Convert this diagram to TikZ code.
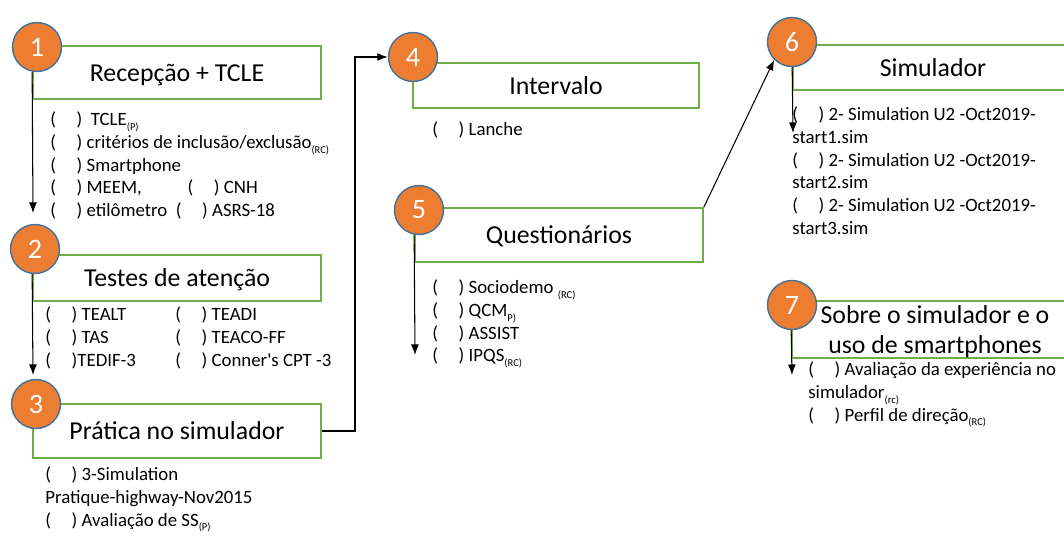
\documentclass[tikz,border=0pt]{standalone}
\usepackage{fontspec}
\setmainfont{Carlito}
\usepackage{xcolor}
\usepackage{tikz}
\usetikzlibrary{shapes,arrows.meta}

\definecolor{boxgreen}{HTML}{70AD47}
\definecolor{badgeorange}{HTML}{ED7D31}
\definecolor{badgeblue}{HTML}{41719C}
\newcommand{\titlefont}{\fontsize{14.7}{17}\selectfont}
\newcommand{\listfont}{\fontsize{10.7}{13}\selectfont}
\newcommand{\numfont}{\fontsize{16}{18}\selectfont}
\newcommand{\chkbox}{(\hspace{1.1em})}
\newcommand{\lowsub}[1]{\raisebox{-0.55ex}{\fontsize{6}{6}\selectfont #1}}
\newcommand{\subtag}[1]{\lowsub{(#1)}}

\begin{document}
\begin{tikzpicture}[x=0.02cm, y=-0.02cm]
	\tikzstyle{block} = [rectangle, draw=boxgreen, line width=1pt, inner sep=0pt,
	text centered, text depth=0pt, font=\titlefont]
	\tikzstyle{badge} = [circle, fill=badgeorange, draw=badgeblue, line width=0.8pt,
	minimum size=0.98cm, inner sep=0pt, text=white, font=\numfont]
	\tikzstyle{items} = [anchor=north west, align=left, inner sep=0pt, font=\listfont]
	\tikzstyle{line} = [draw, -{Latex[length=6pt,width=4.5pt]}, line width=0.6pt]
	\clip (0,0) rectangle (1064,535);
	% Place boxes
	\node [block, minimum width=5.76cm, minimum height=1.06cm] (b1) at (177,72.5) {Recepção + TCLE};
	\node [block, minimum width=5.76cm, minimum height=0.92cm] (b2) at (177,278) {Testes de atenção};
	\node [block, minimum width=5.76cm, minimum height=1.08cm] (b3) at (177,431) {Prática no simulador};
	\node [block, minimum width=5.72cm, minimum height=0.9cm] (b4) at (556,85.5) {Intervalo};
	\node [block, minimum width=5.76cm, minimum height=1.08cm] (b5) at (559,235) {Questionários};
	\node [block, minimum width=5.6cm, minimum height=0.9cm] (b6) at (933,67.5) {Simulador};
	\node [block, minimum width=5.72cm, minimum height=1.14cm, align=center] (b7) at (935,329.5)
	{Sobre o simulador e o\\uso de smartphones};
	% Place item lists
	\node [items] (l1) at (50,109) {\strut\chkbox\ \ TCLE\subtag{P}\\
	\chkbox\ critérios de inclusão/exclusão\subtag{RC}\\
	\chkbox\ Smartphone\\
	\chkbox\ MEEM,\hspace{26pt}\chkbox\ CNH\\
	\chkbox\ etilômetro \ \chkbox\ ASRS-18};
	\node [items] (l2a) at (45,304) {\strut\chkbox\ TEALT\\ \chkbox\ TAS\\ \chkbox TEDIF-3};
	\node [items] (l2b) at (175,304) {\strut\chkbox\ TEADI\\ \chkbox\ TEACO-FF\\ \chkbox\ Conner\textquotesingle s CPT -3};
	\node [items] (l3) at (45,464) {\strut\chkbox\ 3-Simulation\\
	Pratique-highway-Nov2015\\
	\chkbox\ Avaliação de SS\subtag{P}};
	\node [items] (l4) at (432,119) {\strut\chkbox\ Lanche};
	\node [items] (l5) at (432,277) {\strut\chkbox\ Sociodemo \subtag{RC}\\
	\chkbox\ QCM\lowsub{P)}\\
	\chkbox\ ASSIST\\
	\chkbox\ IPQS\subtag{RC}};
	\node [items] (l6) at (792,104) {\strut\chkbox\ 2- Simulation U2 -Oct2019-\\
	start1.sim\\
	\chkbox\ 2- Simulation U2 -Oct2019-\\
	start2.sim\\
	\chkbox\ 2- Simulation U2 -Oct2019-\\
	start3.sim};
	\node [items] (l7) at (808,359) {\strut\chkbox\ Avaliação da experiência no\\
	simulador\subtag{rc}\\
	\chkbox\ Perfil de direção\subtag{RC}};
	% Arrow ends
	\coordinate (e1) at (33,213);
	\coordinate (e2) at (33,375);
	\coordinate (k1) at (355,57);
	\coordinate (e5) at (415,355);
	\coordinate (e6) at (793,133);
	\coordinate (e7) at (792,375);
	% Place numbers
	\node [badge] (c1) at (37,47) {1};
	\node [badge] (c2) at (35,249) {2};
	\node [badge] (c3) at (36,404) {3};
	\node [badge] (c4) at (413,57) {4};
	\node [badge] (c5) at (419,210) {5};
	\node [badge] (c6) at (792,42) {6};
	\node [badge] (c7) at (792,305) {7};
	% Draw edges
	\path [line] (c1.south -| b1.west) -- (e1);
	\path [line] (c2.south -| b2.west) -- (e2);
	\path [line] (b3.east) -| (k1) -- (c4.west);
	\path [line] (c5.south -| b5.west) -- (e5);
	\path [line] (b5.north east) -- (c6.south west);
	\path [line] (c6.south -| b6.west) -- (e6);
	\path [line] (c7.south -| b7.west) -- (e7);
\end{tikzpicture}
\end{document}
